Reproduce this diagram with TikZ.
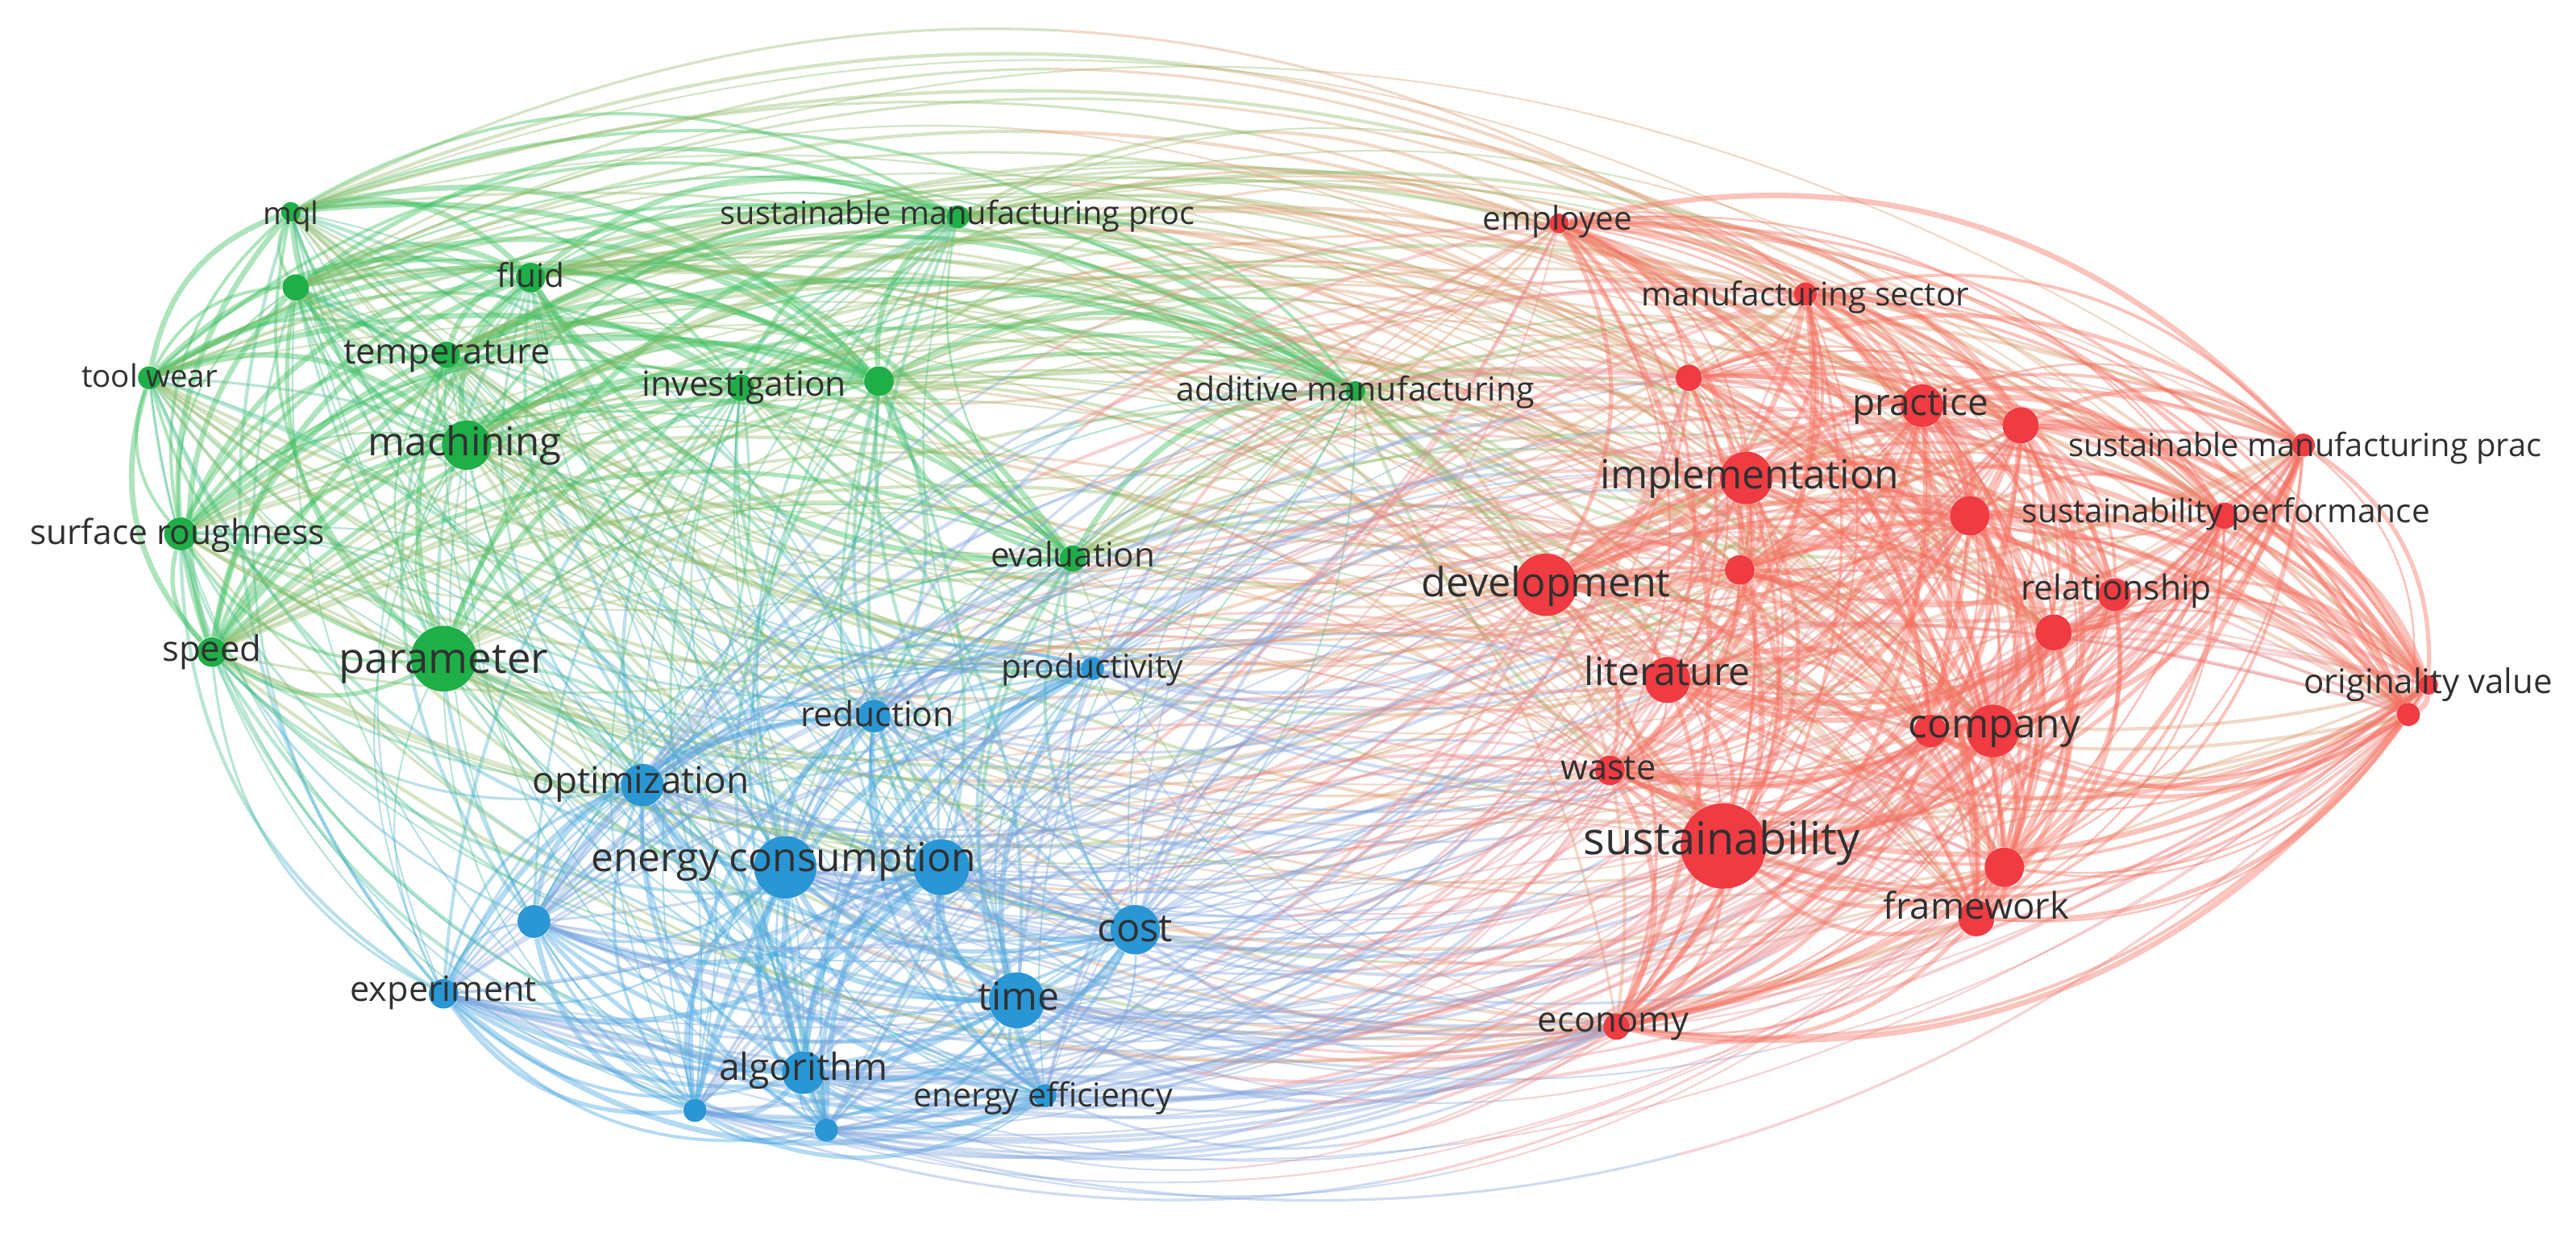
\documentclass[tikz,border=0pt]{standalone}
\usepackage{fontspec}
\setmainfont{Open Sans}
\usetikzlibrary{calc}
\pgfdeclarelayer{bg}
\pgfsetlayers{bg,main}
\definecolor{nc1}{HTML}{1FAE48}
\definecolor{nc2}{HTML}{2A96D4}
\definecolor{nc3}{HTML}{EF3B42}
\definecolor{e11}{HTML}{3DBE5E}
\definecolor{e22}{HTML}{4AA6E0}
\definecolor{e33}{HTML}{F4705F}
\definecolor{h12}{HTML}{45BC8A}
\definecolor{h21}{HTML}{48AECB}
\definecolor{h13}{HTML}{8DB865}
\definecolor{h31}{HTML}{D99A6C}
\definecolor{h23}{HTML}{7EA2DC}
\definecolor{h32}{HTML}{E98A8C}
\definecolor{lblgray}{HTML}{303030}
\begin{document}
\begin{tikzpicture}[x=0.2mm,y=-0.2mm,
  kw/.style={circle,inner sep=0pt,draw=none},
  lnk/.style={draw opacity=0.38},
  lnkin/.style={draw opacity=0.42},
  lbl/.style={text=lblgray,inner sep=0pt,anchor=base}]
\useasboundingbox (0,0) rectangle (1568,753);
% keyword circles
\foreach \k/\nm/\x/\y/\r/\c in {
1/mql/177/129/6/1, 2/gA/180/175/8/1, 3/fluid/323/169/9/1, 4/temperature/272/216/8/1,
5/toolwear/91/230/7/1, 6/investigation/451/236/8/1, 7/gB/535/232/9/1, 8/smproc/583/132/7/1,
9/machining/284/271/15/1, 10/surfrough/110/325/10/1, 11/speed/129/397/9/1, 12/parameter/270/401/20/1,
13/evaluation/653/340/8/1, 14/additive/825/238/6/1,
15/productivity/665/407/7/2, 16/reduction/532/436/10/2, 17/optimization/391/478/13/2,
18/energycons/478/528/19/2, 19/bA/573/528/17/2, 20/cost/691/566/15/2, 21/bB/325/561/10/2,
22/experiment/270/605/9/2, 23/time/619/609/17/2, 24/algorithm/489/653/13/2, 25/energyeff/636/667/7/2,
26/bC/423/676/7/2, 27/bD/503/688/7/2,
28/employee/949/136/6/3, 29/mfgsector/1099/179/7/3, 30/rA/1028/230/8/3, 31/practice/1170/247/13/3,
32/rB/1230/259/11/3, 33/smprac/1402/271/7/3, 34/implementation/1063/291/16/3, 35/sustperf/1354/314/8/3,
36/rC/1199/314/12/3, 37/development/941/356/19/3, 38/rD/1059/347/9/3, 39/relationship/1287/362/10/3,
40/rE/1250/385/11/3, 41/literature/1015/414/14/3, 42/originality/1478/417/6/3, 43/rF/1466/435/7/3,
44/rG/1175/445/10/3, 45/company/1213/445/16/3, 46/waste/980/469/9/3, 47/sustainability/1049/515/26/3,
48/rH/1220/528/12/3, 49/framework/1203/559/11/3, 50/economy/984/625/8/3}{
  \expandafter\xdef\csname NX\k\endcsname{\x}
  \expandafter\xdef\csname NY\k\endcsname{\y}
  \expandafter\xdef\csname NC\k\endcsname{\c}
  \expandafter\xdef\csname NN\k\endcsname{\nm}
  \node[kw,fill=nc\c,minimum size=\r*0.4mm] (\nm) at (\x,\y) {};
}
% links
\begin{pgfonlayer}{bg}
\foreach \i in {1,...,50}{
  \foreach \j in {1,...,50}{
    \ifnum\j>\i\relax
      \edef\ci{\csname NC\i\endcsname}\edef\cj{\csname NC\j\endcsname}
      \edef\xi{\csname NX\i\endcsname}\edef\yi{\csname NY\i\endcsname}
      \edef\xj{\csname NX\j\endcsname}\edef\yj{\csname NY\j\endcsname}
      \edef\na{\csname NN\i\endcsname}\edef\nb{\csname NN\j\endcsname}
      \pgfmathtruncatemacro\h{mod(\i*37+\j*53+mod(\i*\j,89)*17,100)}
      \pgfmathtruncatemacro\thr{\ci==\cj ? 0 : (\ci+\cj==4 ? 45 : (\ci+\cj==3 ? 35 : 38))}
      \ifnum\h<\thr\relax\else
        \pgfmathsetmacro\s{((\yj-\yi)/100)*((\xi+\xj)/200-7.8)-((\xj-\xi)/100)*((\yi+\yj)/200-4.0)}
        \pgfmathtruncatemacro\dd{mod(\i*\j*3+\i*5+\j,10)}
        \pgfmathsetmacro\ang{(\s>0 ? 30 : -30)*(\ci==\cj ? 1 : (\dd<6 ? 1 : -1))}
        \pgfmathsetmacro\angb{-\ang}
        \ifnum\ci=\cj\relax
          \pgfmathsetmacro\lw{0.7+mod(\h,4)*0.4}
          \draw[lnkin,line width=\lw pt,draw=e\ci\cj] (\na) to[bend left=\ang] (\nb);
        \else
          \pgfmathsetmacro\lw{0.6+mod(\h,3)*0.3}
          \path ($(\na)!0.3915!\ang:(\nb)$) coordinate (c1) ($(\nb)!0.3915!\angb:(\na)$) coordinate (c2);
          \path ($(\na)!0.5!(c1)$) coordinate (a1) ($(c1)!0.5!(c2)$) coordinate (bb) ($(c2)!0.5!(\nb)$) coordinate (a2);
          \path ($(a1)!0.5!(bb)$) coordinate (d1) ($(bb)!0.5!(a2)$) coordinate (d2);
          \path ($(d1)!0.5!(d2)$) coordinate (mm);
          \draw[lnk,line width=\lw pt,draw=h\ci\cj] (\na.center) .. controls (a1) and (d1) .. (mm);
          \draw[lnk,line width=\lw pt,draw=h\cj\ci] (mm) .. controls (d2) and (a2) .. (\nb.center);
        \fi
      \fi
    \fi
  }
}
\end{pgfonlayer}
% labels
\foreach \lx/\ly/\fs/\txt [count=\q] in {
177/131/19/mql, 323/169/20/fluid, 272/215/21.5/temperature, 91/230/19/tool wear,
453/235/21/investigation, 583/131/19.6/sustainable manufacturing proc, 283/270/24.3/machining,
108/325/21/surface roughness, 129/396/21.5/speed, 270/402/26/parameter, 653/339/20.7/evaluation,
825/238/20.2/additive manufacturing, 665/407/20.1/productivity, 534/436/21/reduction,
390/476/22.6/optimization, 477/523/24.5/energy consumption, 691/566/24/cost, 270/603/21.3/experiment,
620/608/23.7/time, 489/651/22.8/algorithm, 635/668/20.2/energy efficiency,
948/134/20/employee, 1099/180/20/manufacturing sector, 1169/246/22.6/practice,
1403/272/19.6/sustainable manufacturing prac, 1065/290/24.5/implementation,
1355/312/20/sustainability performance, 941/356/24.8/development, 1288/359/21/relationship,
1015/410/23.7/literature, 1478/416/20.7/originality value, 1214/442/24.5/company, 979/468/21.4/waste,
1048/512/27.6/sustainability, 1203/553/22.4/framework, 982/622/21.5/economy}{
  \pgfmathsetmacro\fpt{\fs*0.5669}
  \pgfmathsetmacro\by{\ly+0.3*\fs}
  \node[lbl,font=\fontsize{\fpt pt}{\fpt pt}\selectfont] (lab\q) at (\lx,\by) {\txt};
}
\end{tikzpicture}
\end{document}
